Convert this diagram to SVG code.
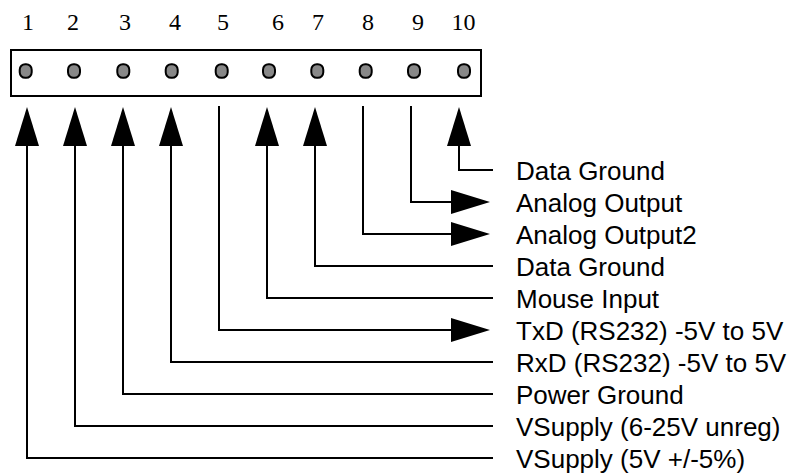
<svg xmlns="http://www.w3.org/2000/svg" width="791" height="475" viewBox="0 0 791 475">
<style>
.box{fill:none;stroke:#000;stroke-width:2}
.pin{fill:#888;stroke:#000;stroke-width:2}
.num{font-family:"Liberation Serif","Times New Roman",serif;font-size:24px;fill:#000;text-anchor:middle}
.lbl{font-family:"Liberation Sans",Arial,sans-serif;font-size:26px;fill:#000}
.wire{fill:none;stroke:#000;stroke-width:2}
.arr{marker-end:url(#ah)}
</style>
<defs>
<marker id="ah" markerUnits="userSpaceOnUse" markerWidth="40" markerHeight="26" refX="0" refY="12" orient="auto" overflow="visible">
<path d="M0,0 L39,12 L0,24 z" fill="#000"/>
</marker>
</defs>
<rect width="791" height="475" fill="#fff"/>
<g id="connector">
<rect class="box" x="11" y="50" width="470" height="46"/>
<g id="pin1"><rect class="pin" x="19.7" y="64.2" width="12" height="13.6" rx="5.5"/><text class="num" x="28" y="29.5">1</text></g>
<g id="pin2"><rect class="pin" x="68" y="64.2" width="12" height="13.6" rx="5.5"/><text class="num" x="73" y="29.5">2</text></g>
<g id="pin3"><rect class="pin" x="117.3" y="64.2" width="12" height="13.6" rx="5.5"/><text class="num" x="125" y="29.5">3</text></g>
<g id="pin4"><rect class="pin" x="165.7" y="64.2" width="12" height="13.6" rx="5.5"/><text class="num" x="175" y="29.5">4</text></g>
<g id="pin5"><rect class="pin" x="215.7" y="64.2" width="12" height="13.6" rx="5.5"/><text class="num" x="223" y="29.5">5</text></g>
<g id="pin6"><rect class="pin" x="263" y="64.2" width="12" height="13.6" rx="5.5"/><text class="num" x="278" y="29.5">6</text></g>
<g id="pin7"><rect class="pin" x="311.3" y="64.2" width="12" height="13.6" rx="5.5"/><text class="num" x="318" y="29.5">7</text></g>
<g id="pin8"><rect class="pin" x="359.7" y="64.2" width="12" height="13.6" rx="5.5"/><text class="num" x="368" y="29.5">8</text></g>
<g id="pin9"><rect class="pin" x="408" y="64.2" width="12" height="13.6" rx="5.5"/><text class="num" x="418" y="29.5">9</text></g>
<g id="pin10"><rect class="pin" x="458" y="64.2" width="12" height="13.6" rx="5.5"/><text class="num" x="463.5" y="29.5">10</text></g>
</g>
<g id="connectors">
<path class="wire arr" d="M493,170 H459 V146"/>
<path class="wire arr" d="M411,106 V202 H451"/>
<path class="wire arr" d="M363,106 V234 H451"/>
<path class="wire arr" d="M493,266 H315 V146"/>
<path class="wire arr" d="M493,298 H267 V146"/>
<path class="wire arr" d="M219,106 V330 H451"/>
<path class="wire arr" d="M493,362 H171 V146"/>
<path class="wire arr" d="M493,394 H123 V146"/>
<path class="wire arr" d="M493,426 H75 V146"/>
<path class="wire arr" d="M493,458 H27 V146"/>
</g>
<g id="label10"><text class="lbl" x="516" y="179.5">Data Ground</text></g>
<g id="label9"><text class="lbl" x="516" y="211.5">Analog Output</text></g>
<g id="label8"><text class="lbl" x="516" y="243.5">Analog Output2</text></g>
<g id="label7"><text class="lbl" x="516" y="275.5">Data Ground</text></g>
<g id="label6"><text class="lbl" x="516" y="307.5">Mouse Input</text></g>
<g id="label5"><text class="lbl" x="516" y="339.5">TxD (RS232) -5V to 5V</text></g>
<g id="label4"><text class="lbl" x="516" y="371.5">RxD (RS232) -5V to 5V</text></g>
<g id="label3"><text class="lbl" x="516" y="403.5">Power Ground</text></g>
<g id="label2"><text class="lbl" x="516" y="435.5">VSupply (6-25V unreg)</text></g>
<g id="label1"><text class="lbl" x="516" y="467.5">VSupply (5V +/-5%)</text></g>
</svg>
